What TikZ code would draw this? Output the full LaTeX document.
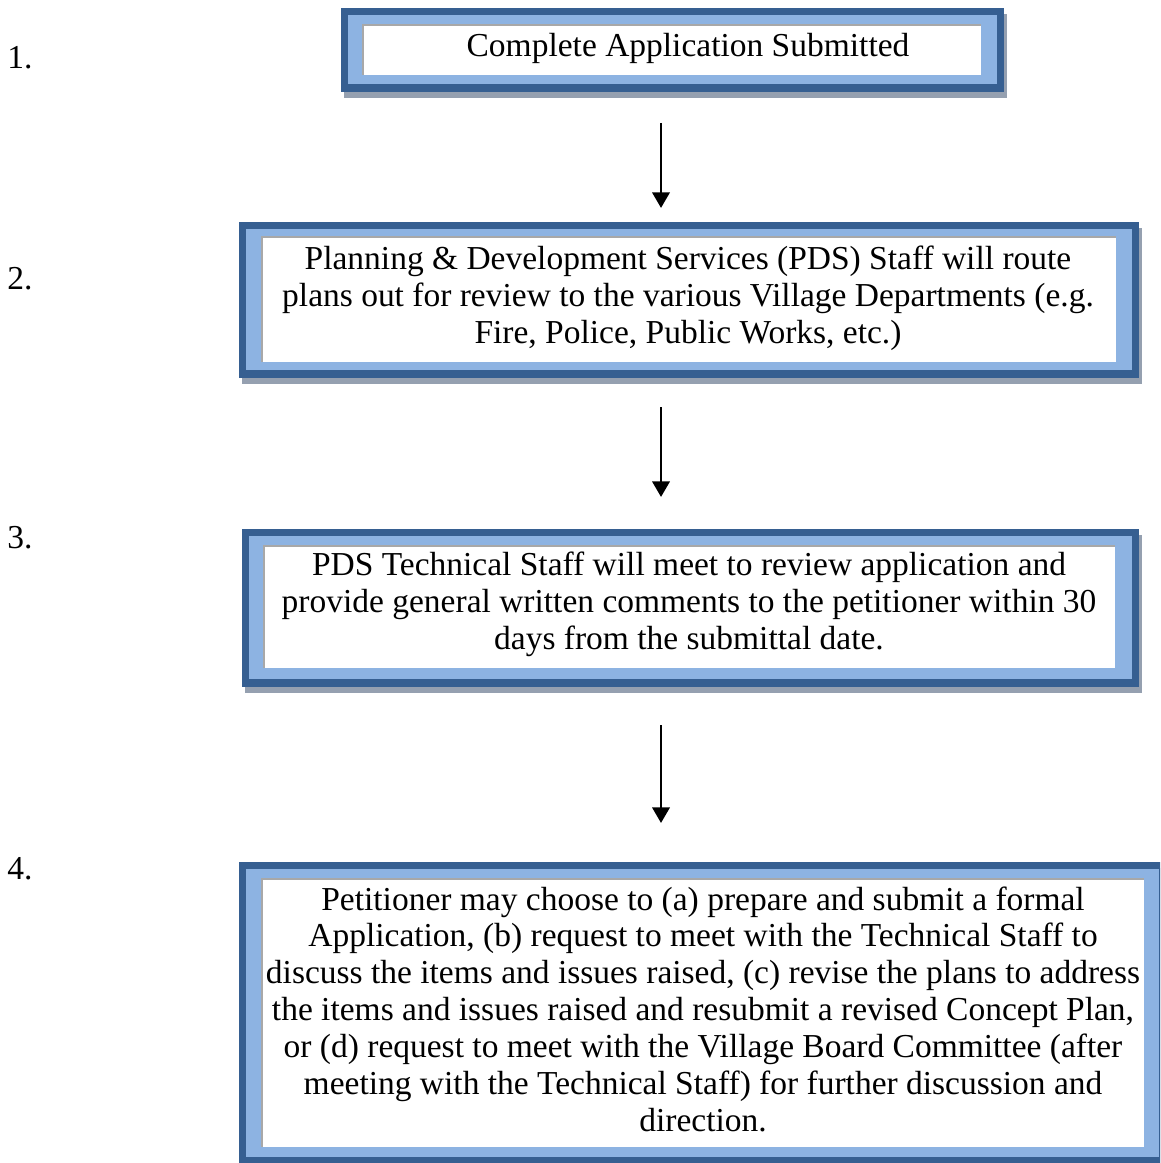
\documentclass[tikz,border=0pt]{standalone}
\usepackage{fontspec}
\setmainfont{Liberation Serif}
\usetikzlibrary{arrows.meta}
\definecolor{darkb}{HTML}{365F91}
\definecolor{lightb}{HTML}{8DB3E2}
\definecolor{shadowc}{HTML}{95A0B0}
\definecolor{innerg}{HTML}{A8A8A8}
\tikzset{
  flowtext/.style={inner sep=0pt, align=center, font=\fontsize{12.5}{13.75}\selectfont},
  numtext/.style={inner sep=0pt, font=\fontsize{12.5}{13.75}\selectfont},
  flowarrow/.style={line width=1.1pt, -{Triangle[width=6.4pt,length=5.8pt]}},
  innerline/.style={innerg, line width=0.5pt}
}
\newcommand{\flowframe}[8]{%
  \fill[shadowc] (#1+3,#2+6) rectangle (#3+3,#4+6);
  \fill[darkb] (#1,#2) rectangle (#3,#4);
  \fill[lightb] (#1+7,#2+7) rectangle (#3-7,#4-8);
  \fill[white] (#5,#6) rectangle (#7,#8);
  \draw[innerline] (#5,#8) -- (#5,#6) -- (#7,#6);
}
\begin{document}
\begin{tikzpicture}[x=0.3733pt, y=-0.3733pt]
\useasboundingbox (0,0) rectangle (1160,1163);
\clip (0,0) rectangle (1160,1163);
\fill[white] (0,0) rectangle (1160,1163);

% frames
\flowframe{341}{8}{1004}{92}{363}{25}{981}{75}
\flowframe{239}{222}{1139}{378}{262}{237}{1116}{362}
\flowframe{242}{529}{1139}{687}{264}{546}{1115}{668}
\flowframe{239}{862}{1166}{1165}{262}{879}{1144}{1147}

% texts
\node[flowtext] (s1) at (688,48) {Complete Application Submitted};
\node[flowtext] (s2) at (688,298) {Planning \& Development Services (PDS) Staff will route\\plans out for review to the various Village Departments (e.g.\\Fire, Police, Public Works, etc.)};
\node[flowtext] (s3) at (689,604) {PDS Technical Staff will meet to review application and\\provide general written comments to the petitioner within 30\\days from the submittal date.};
\node[flowtext] (s4) at (703,1009) {Petitioner may choose to (a) prepare and submit a formal\\Application, (b) request to meet with the Technical Staff to\\discuss the items and issues raised, (c) revise the plans to address\\the items and issues raised and resubmit a revised Concept Plan,\\or (d) request to meet with the Village Board Committee (after\\meeting with the Technical Staff) for further discussion and\\direction.};

% step numbers
\node[numtext] (n1) at (20,58) {1.};
\node[numtext] (n2) at (20,279) {2.};
\node[numtext] (n3) at (20,538) {3.};
\node[numtext] (n4) at (20,869) {4.};

% arrows
\coordinate (a1s) at (661,123);
\coordinate (a1e) at (661,208);
\coordinate (a2s) at (661,407);
\coordinate (a2e) at (661,497);
\coordinate (a3s) at (661,725);
\coordinate (a3e) at (661,823);
\draw[flowarrow] (a1s) -- (a1e);
\draw[flowarrow] (a2s) -- (a2e);
\draw[flowarrow] (a3s) -- (a3e);
\end{tikzpicture}
\end{document}
